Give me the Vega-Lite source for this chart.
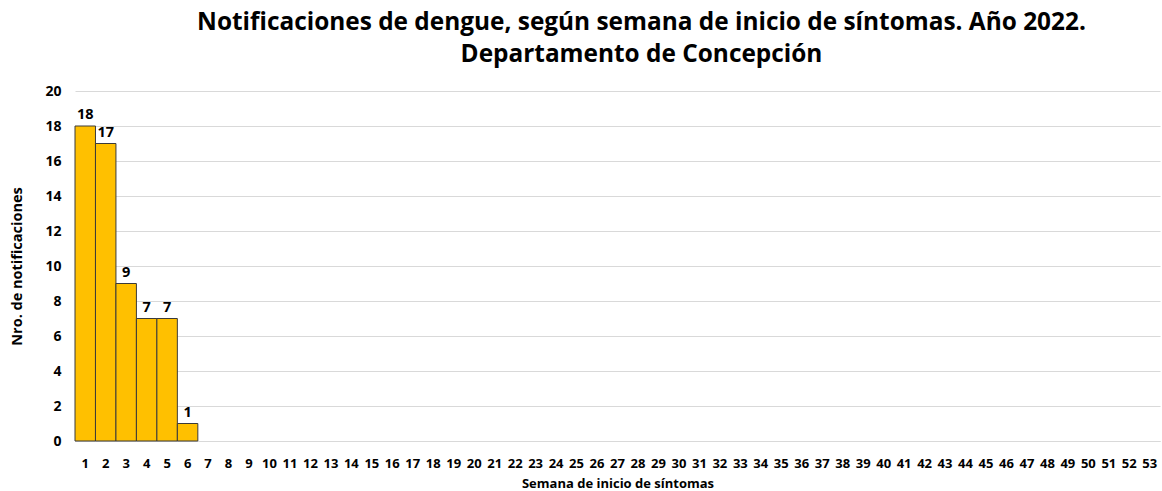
{
  "$schema": "https://vega.github.io/schema/vega-lite/v6.json",
  "width": 1085,
  "height": 350,
  "autosize": {"type": "none"},
  "padding": {"left": 75, "top": 91, "right": 2, "bottom": 50},
  "background": "white",
  "config": {"font": "Open Sans", "view": {"stroke": null}},
  "title": {
    "text": ["Notificaciones de dengue, según semana de inicio de síntomas. Año 2022.", "Departamento de Concepción"],
    "anchor": "middle",
    "frame": "group",
    "dx": 24,
    "offset": 17,
    "fontSize": 24.4,
    "fontWeight": "bold",
    "font": "Open Sans",
    "color": "#000000",
    "lineHeight": 32
  },
  "data": {"values": [
    {"semana": 1, "n": 18}, {"semana": 2, "n": 17}, {"semana": 3, "n": 9}, {"semana": 4, "n": 7},
    {"semana": 5, "n": 7}, {"semana": 6, "n": 1}, {"semana": 7, "n": 0}, {"semana": 8, "n": 0},
    {"semana": 9, "n": 0}, {"semana": 10, "n": 0}, {"semana": 11, "n": 0}, {"semana": 12, "n": 0},
    {"semana": 13, "n": 0}, {"semana": 14, "n": 0}, {"semana": 15, "n": 0}, {"semana": 16, "n": 0},
    {"semana": 17, "n": 0}, {"semana": 18, "n": 0}, {"semana": 19, "n": 0}, {"semana": 20, "n": 0},
    {"semana": 21, "n": 0}, {"semana": 22, "n": 0}, {"semana": 23, "n": 0}, {"semana": 24, "n": 0},
    {"semana": 25, "n": 0}, {"semana": 26, "n": 0}, {"semana": 27, "n": 0}, {"semana": 28, "n": 0},
    {"semana": 29, "n": 0}, {"semana": 30, "n": 0}, {"semana": 31, "n": 0}, {"semana": 32, "n": 0},
    {"semana": 33, "n": 0}, {"semana": 34, "n": 0}, {"semana": 35, "n": 0}, {"semana": 36, "n": 0},
    {"semana": 37, "n": 0}, {"semana": 38, "n": 0}, {"semana": 39, "n": 0}, {"semana": 40, "n": 0},
    {"semana": 41, "n": 0}, {"semana": 42, "n": 0}, {"semana": 43, "n": 0}, {"semana": 44, "n": 0},
    {"semana": 45, "n": 0}, {"semana": 46, "n": 0}, {"semana": 47, "n": 0}, {"semana": 48, "n": 0},
    {"semana": 49, "n": 0}, {"semana": 50, "n": 0}, {"semana": 51, "n": 0}, {"semana": 52, "n": 0},
    {"semana": 53, "n": 0}
  ]},
  "encoding": {
    "x": {
      "field": "semana", "type": "ordinal",
      "scale": {
        "domain": [1,2,3,4,5,6,7,8,9,10,11,12,13,14,15,16,17,18,19,20,21,22,23,24,25,26,27,28,29,30,31,32,33,34,35,36,37,38,39,40,41,42,43,44,45,46,47,48,49,50,51,52,53],
        "paddingInner": 0, "paddingOuter": 0
      },
      "axis": {
        "title": "Semana de inicio de síntomas",
        "titleFontSize": 13, "titleFontWeight": "bold", "titleColor": "#000000", "titlePadding": 7,
        "labelAngle": 0, "labelFontSize": 13, "labelFontWeight": "bold", "labelColor": "#000000",
        "labelPadding": 16,
        "ticks": false, "domain": true, "domainColor": "#d9d9d9", "grid": false
      }
    },
    "y": {
      "field": "n", "type": "quantitative",
      "scale": {"domain": [0, 20]},
      "axis": {
        "title": "Nro. de notificaciones",
        "titleFontSize": 14.5, "titleFontWeight": "bold", "titleColor": "#000000", "titlePadding": 20,
        "values": [0, 2, 4, 6, 8, 10, 12, 14, 16, 18, 20],
        "labelFontSize": 14, "labelFontWeight": "bold", "labelColor": "#000000", "labelPadding": 14,
        "ticks": false, "domain": false,
        "grid": true, "gridColor": "#d9d9d9", "gridWidth": 1
      }
    }
  },
  "layer": [
    {
      "mark": {"type": "bar", "color": "#FFC000", "stroke": "#3a3a3a", "strokeWidth": 1},
      "transform": [{"filter": "datum.n > 0"}]
    },
    {
      "mark": {"type": "text", "dy": -11, "fontSize": 14.5, "fontWeight": "bold", "color": "#000000"},
      "transform": [{"filter": "datum.n > 0"}],
      "encoding": {"text": {"field": "n", "type": "quantitative"}}
    }
  ]
}
